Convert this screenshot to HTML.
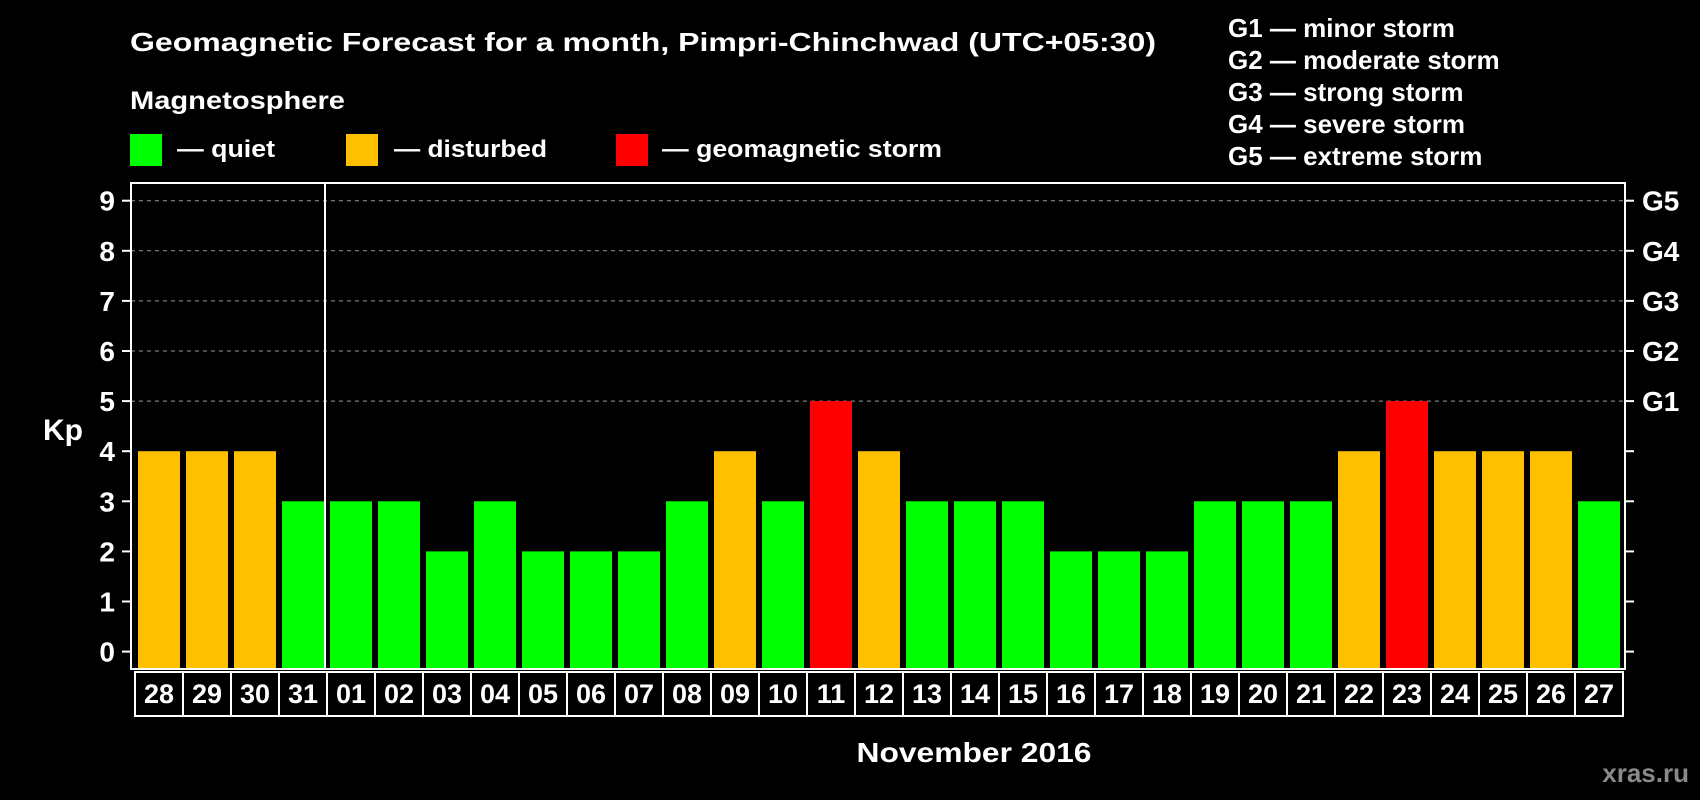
<!DOCTYPE html>
<html><head><meta charset="utf-8"><style>
html,body{margin:0;padding:0;background:#000;}
svg{display:block;font-family:"Liberation Sans",Arial,sans-serif;font-weight:bold;}
</style></head><body>
<svg id="chart" width="1700" height="800" viewBox="0 0 1700 800" xmlns="http://www.w3.org/2000/svg">
<rect width="1700" height="800" fill="#000"/>
<text x="130" y="51" font-size="26" fill="#fff" textLength="1026" lengthAdjust="spacingAndGlyphs">Geomagnetic Forecast for a month, Pimpri-Chinchwad (UTC+05:30)</text>
<text x="130" y="109" font-size="25" fill="#fff" textLength="215" lengthAdjust="spacingAndGlyphs">Magnetosphere</text>
<g>
<rect x="130" y="134" width="32" height="32" fill="#00ff00"/>
<text x="177" y="157" font-size="24" fill="#fff" textLength="98" lengthAdjust="spacingAndGlyphs">— quiet</text>
</g>
<g>
<rect x="346" y="134" width="32" height="32" fill="#ffc000"/>
<text x="394" y="157" font-size="24" fill="#fff" textLength="153" lengthAdjust="spacingAndGlyphs">— disturbed</text>
</g>
<g>
<rect x="616" y="134" width="32" height="32" fill="#ff0000"/>
<text x="662" y="157" font-size="24" fill="#fff" textLength="280" lengthAdjust="spacingAndGlyphs">— geomagnetic storm</text>
</g>
<g font-size="26" fill="#fff">
<text x="1228" y="37">G1 — minor storm</text>
<text x="1228" y="69">G2 — moderate storm</text>
<text x="1228" y="101">G3 — strong storm</text>
<text x="1228" y="133">G4 — severe storm</text>
<text x="1228" y="165">G5 — extreme storm</text>
</g>
<g id="plot"></g>
<text x="43" y="440" font-size="30" fill="#fff">Kp</text>
<text x="974" y="762" font-size="28" fill="#fff" text-anchor="middle" textLength="235" lengthAdjust="spacingAndGlyphs">November 2016</text>
<text x="1689" y="782" font-size="26" fill="#8a8a8a" text-anchor="end">xras.ru</text>
</svg>
<script>
const days = ["28","29","30","31","01","02","03","04","05","06","07","08","09","10","11","12","13","14","15","16","17","18","19","20","21","22","23","24","25","26","27"];
const kp = [4,4,4,3,3,3,2,3,2,2,2,3,4,3,5,4,3,3,3,2,2,2,3,3,3,4,5,4,4,4,3];
const yTicks = [0,1,2,3,4,5,6,7,8,9];
const gLabels = ["G1","G2","G3","G4","G5"];
const gLevels = [5,6,7,8,9];
const monthStartIndex = 4;

const NS = "http://www.w3.org/2000/svg";
const g = document.getElementById("plot");
const L = 131, R = 1625, T = 183, B = 669;
const x0 = 138, pitch = 48, bw = 42;
function xAt(i){ return x0 + i * pitch; }
function yAt(v){ return 651.6 - v * 50.1; }
function mk(tag, attrs){ const e = document.createElementNS(NS, tag); for (const k in attrs) e.setAttribute(k, attrs[k]); g.appendChild(e); return e; }
function color(v){ return v >= 5 ? "#ff0000" : (v >= 4 ? "#ffc000" : "#00ff00"); }

gLevels.forEach(function(v, i){
  const e = mk("line", {x1:L, x2:R, y1:yAt(v), y2:yAt(v), stroke:"#999", "stroke-width":1, "stroke-dasharray":"4,4"});
  
  
});
kp.forEach(function(v, i){
  const e = mk("rect", {x:xAt(i), y:yAt(v), width:bw, height:(B - 1) - yAt(v), fill:color(v)});
  
  
});
const frame = mk("rect", {x:L, y:T, width:R-L, height:B-T, fill:"none", stroke:"#fff", "stroke-width":2});


const div = mk("line", {x1:xAt(monthStartIndex)-5, x2:xAt(monthStartIndex)-5, y1:T, y2:B, stroke:"#fff", "stroke-width":2});


yTicks.forEach(function(v){
  const t1 = mk("line", {x1:122, x2:L, y1:yAt(v), y2:yAt(v), stroke:"#fff", "stroke-width":2});
  
  
  const t2 = mk("line", {x1:R, x2:1634, y1:yAt(v), y2:yAt(v), stroke:"#fff", "stroke-width":2});
  
  
  const tx = mk("text", {x:115, y:yAt(v)+10, "font-size":28, fill:"#fff", "text-anchor":"end"});
  tx.textContent = String(v);
  
  
});
gLabels.forEach(function(s, i){
  const tx = mk("text", {x:1642, y:yAt(gLevels[i])+10, "font-size":28, fill:"#fff"});
  tx.textContent = s;
  
  
});
days.forEach(function(d, i){
  const bx = xAt(i) - 3;
  const r = mk("rect", {x:bx, y:672, width:pitch, height:44, fill:"none", stroke:"#fff", "stroke-width":2});
  
  
  const tx = mk("text", {x:bx + pitch/2, y:703, "font-size":27, fill:"#fff", "text-anchor":"middle"});
  tx.textContent = d;
  
  
});
</script>
</body></html>
